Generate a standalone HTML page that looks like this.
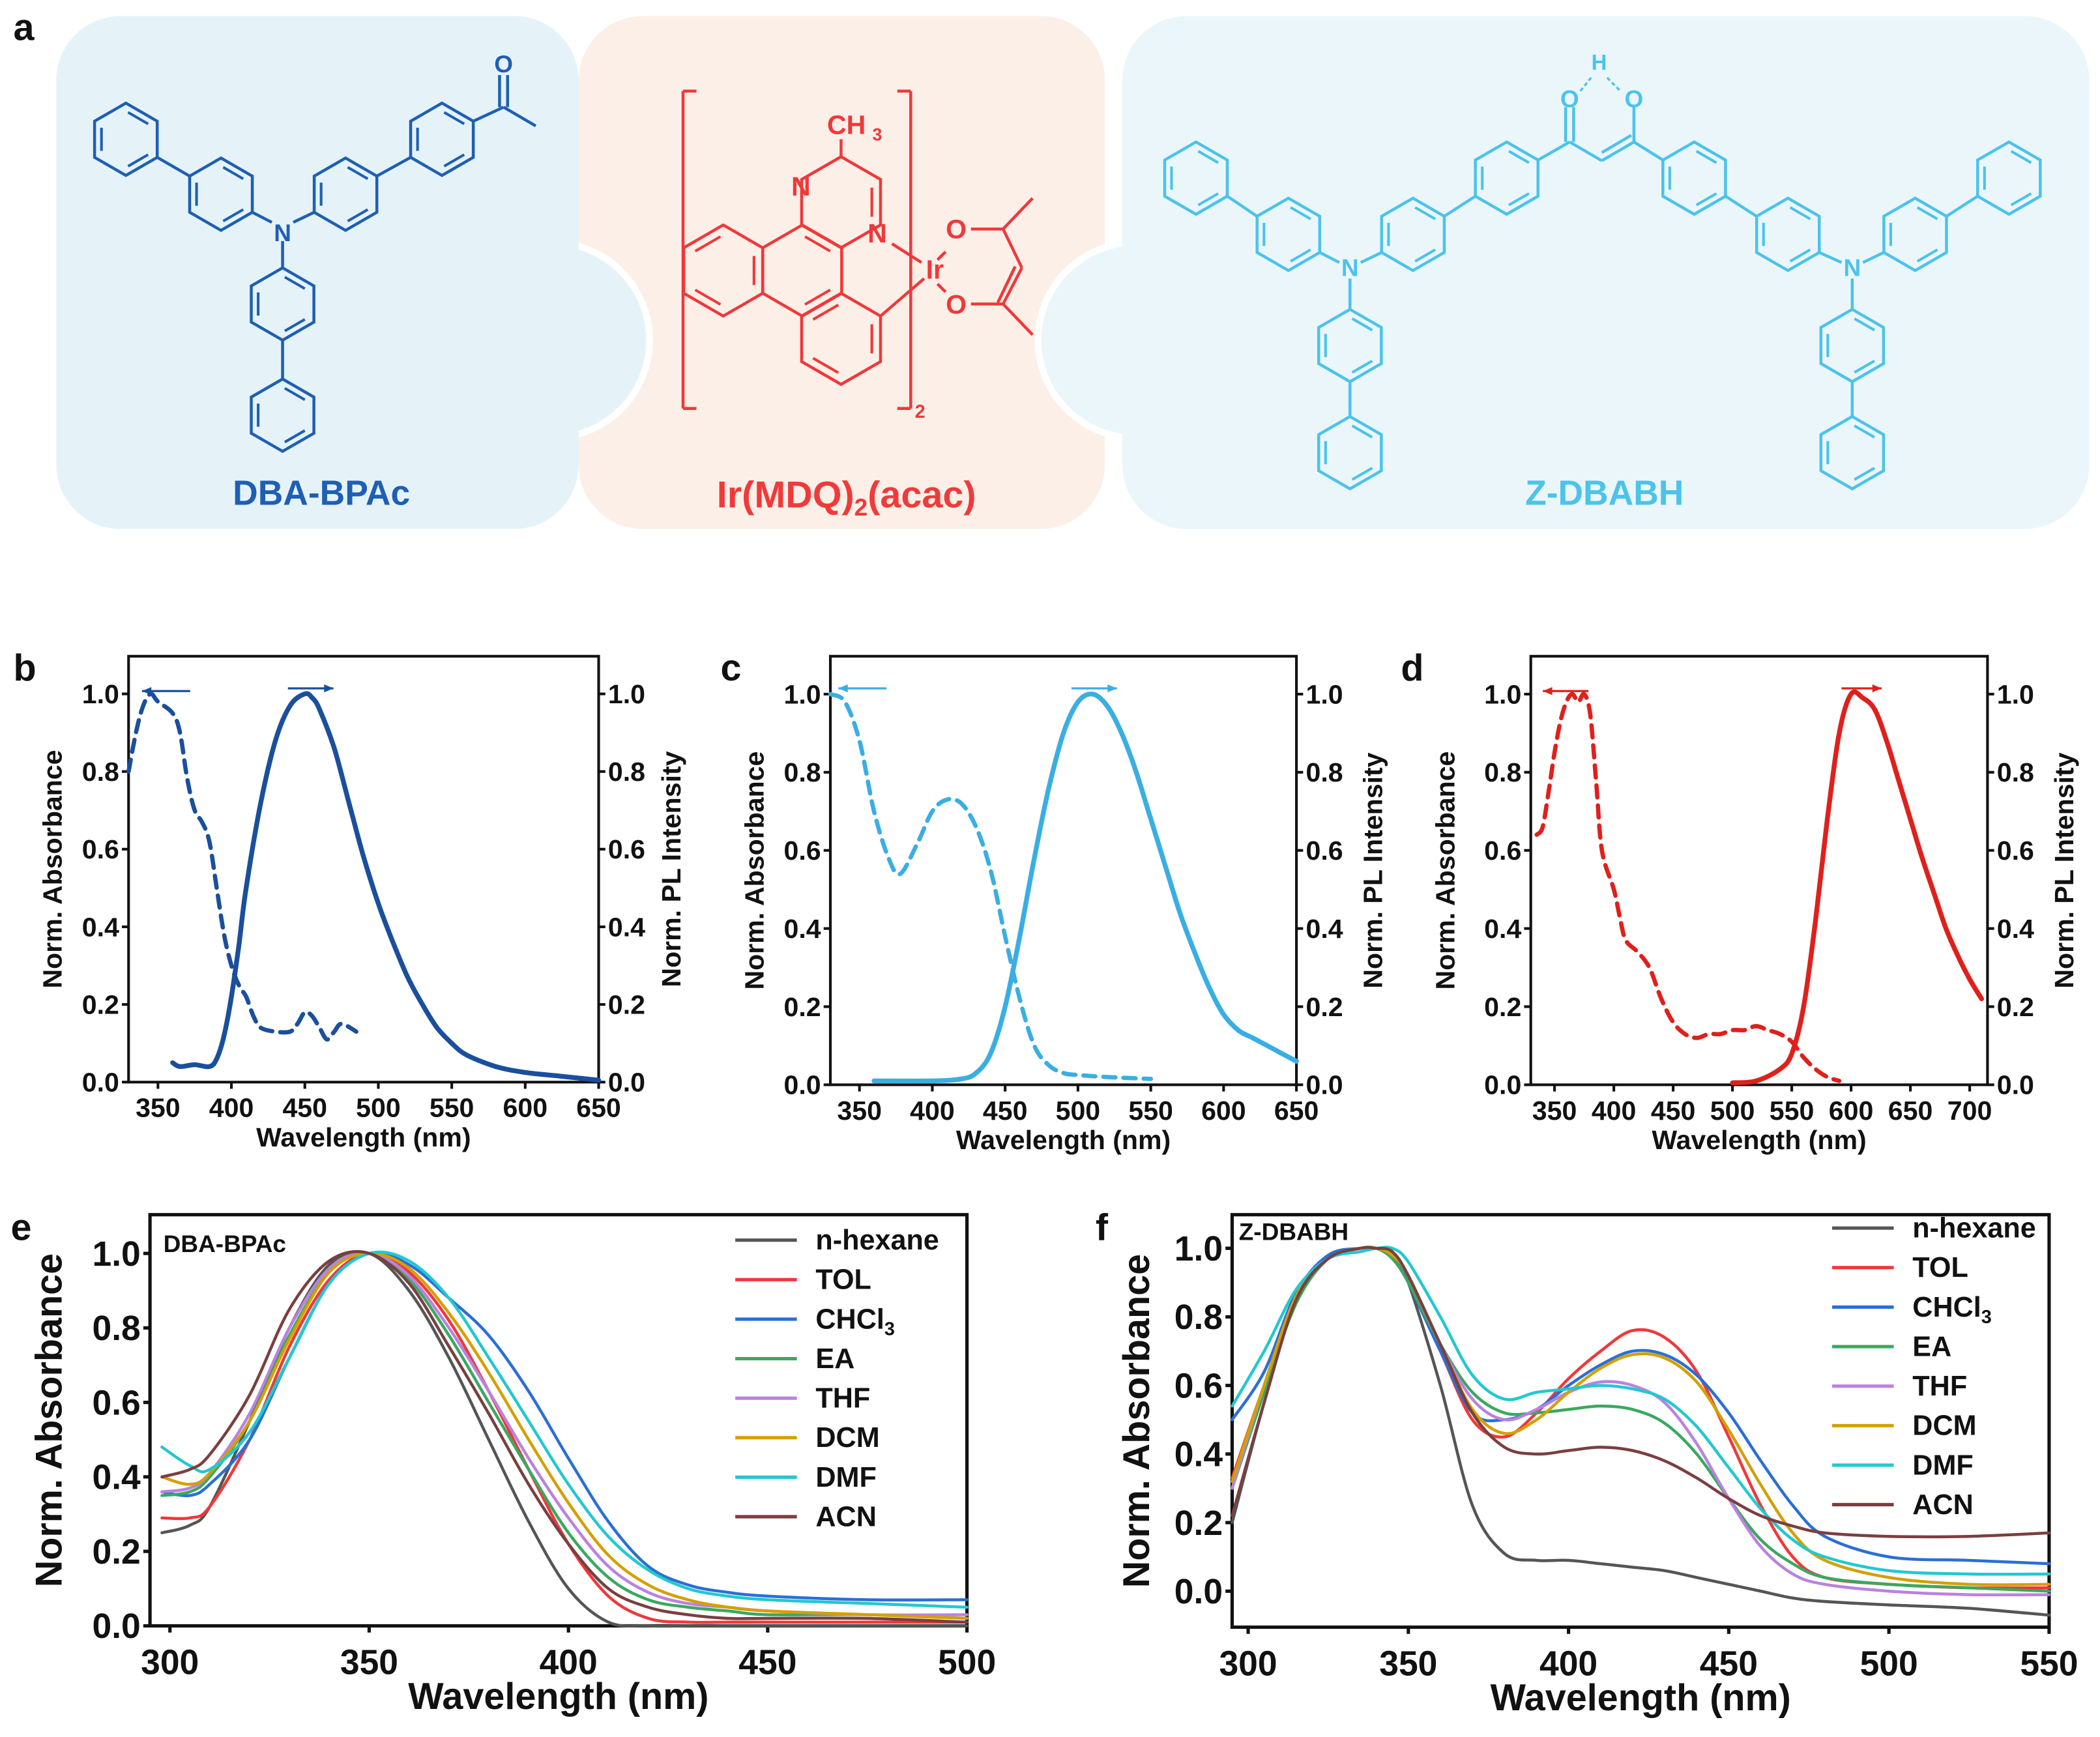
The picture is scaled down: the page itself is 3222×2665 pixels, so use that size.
<!DOCTYPE html>
<html><head><meta charset="utf-8">
<style>
html,body{margin:0;padding:0;background:#fff;}
svg{display:block;}
text{font-family:"Liberation Sans Narrow","Liberation Sans",Arial,sans-serif;font-weight:bold;}
.w{font-family:"Liberation Sans",Arial,sans-serif;}
</style></head>
<body>
<svg id="fig" width="3222" height="2665" viewBox="0 0 1568 1297" preserveAspectRatio="none" xmlns="http://www.w3.org/2000/svg">
<g id="panelA">
  <rect x="432" y="12" width="393" height="383" rx="48" fill="#fbefe8"/>
  <circle cx="412" cy="254" r="73" fill="#e5f3f9" stroke="#fff" stroke-width="5"/>
  <circle cx="848" cy="254" r="73" fill="#ebf6fb" stroke="#fff" stroke-width="5"/>
  <rect x="42" y="12" width="390" height="383" rx="48" fill="#e5f3f9"/>
  <rect x="838" y="12" width="722" height="383" rx="48" fill="#ebf6fb"/>
  <text class="w" x="10" y="30" font-size="28" fill="#111">a</text>
  <text class="w" x="240" y="377" font-size="26" fill="#1f5fb3" text-anchor="middle">DBA-BPAc</text>
  <text x="632" y="379" font-size="28" fill="#f03a3a" text-anchor="middle">Ir(MDQ)<tspan font-size="18" dy="6">2</tspan><tspan dy="-6">(acac)</tspan></text>
  <text class="w" x="1198" y="377" font-size="26" fill="#4cc3ea" text-anchor="middle">Z-DBABH</text>
  <g id="mol"></g>
</g>
<g id="charts"></g>
</svg>
<script>
const NS="http://www.w3.org/2000/svg";
// ---------- chart data ----------
const bAbsX=[330,335,340,345,350,360,365,370,375,380,385,390,395,400,405,410,415,420,430,440,445,450,455,460,465,470,475,485];
const bAbsY=[.80,.90,.97,1.0,.98,.95,.90,.78,.70,.67,.62,.50,.38,.30,.25,.22,.17,.14,.13,.13,.15,.18,.17,.14,.11,.13,.15,.13];
const bPlX=[360,365,375,385,390,395,400,405,410,420,430,440,450,455,460,470,480,490,500,510,520,530,540,550,560,580,600,625,650];
const bPlY=[.05,.04,.045,.04,.06,.12,.22,.35,.50,.72,.88,.97,1.0,.99,.96,.86,.72,.58,.46,.36,.27,.20,.14,.10,.07,.04,.025,.015,.005];
const cAbsX=[330,340,350,360,370,378,390,400,410,420,430,440,450,460,470,480,490,500,520,550];
const cAbsY=[1.0,.98,.88,.70,.58,.54,.62,.70,.73,.72,.66,.55,.38,.22,.10,.05,.03,.025,.02,.015];
const cPlX=[360,400,420,430,440,450,460,470,480,490,500,510,520,530,540,550,560,570,580,590,600,610,620,630,640,650];
const cPlY=[.01,.01,.015,.03,.08,.20,.38,.58,.76,.90,.98,1.0,.97,.90,.80,.68,.56,.44,.34,.25,.18,.14,.12,.10,.08,.06];
const dAbsX=[335,340,345,350,355,360,365,370,375,380,385,390,400,405,410,420,430,440,450,460,470,480,490,500,510,520,530,540,550,560,570,580,590];
const dAbsY=[.64,.66,.75,.85,.93,.98,1.0,.98,1.0,.95,.78,.60,.50,.43,.37,.34,.30,.22,.16,.13,.12,.13,.13,.14,.14,.15,.14,.13,.11,.07,.04,.02,.01];
const dPlX=[500,520,540,550,560,570,580,590,600,610,620,630,640,650,660,670,680,690,700,710];
const dPlY=[.005,.01,.04,.08,.20,.42,.68,.90,1.0,.99,.96,.88,.78,.68,.58,.49,.40,.33,.27,.22];
const solvents=["n-hexane","TOL","CHCl3","EA","THF","DCM","DMF","ACN"];
const solventColors=["#555555","#f0383a","#2a6fd6","#3aa860","#b982e0","#d4a000","#22c8d0","#7a3f3f"];
const eX=[298,305,310,320,330,340,350,360,370,380,390,400,410,420,430,440,450,475,500];
const eHex=[.25,.27,.32,.55,.80,.97,1.0,.90,.72,.50,.28,.10,.01,0,0,0,0,0,0];
const eTol=[.29,.29,.32,.50,.75,.93,1.0,.95,.82,.63,.42,.22,.08,.02,.01,.01,.01,.01,.01];
const eChcl3=[.36,.35,.38,.50,.72,.92,1.0,.97,.88,.78,.63,.45,.28,.16,.11,.09,.08,.07,.07];
const eEa=[.35,.36,.40,.55,.78,.95,1.0,.93,.78,.60,.42,.25,.13,.07,.05,.04,.03,.03,.02];
const eThf=[.36,.37,.41,.57,.80,.96,1.0,.94,.80,.63,.45,.29,.16,.09,.06,.05,.04,.03,.03];
const eDcm=[.40,.38,.41,.55,.77,.95,1.0,.96,.84,.68,.50,.33,.19,.11,.07,.05,.04,.03,.02];
const eDmf=[.48,.43,.42,.52,.72,.92,1.0,.98,.88,.72,.55,.38,.24,.15,.10,.08,.07,.06,.05];
const eAcn=[.40,.42,.46,.62,.85,.98,1.0,.92,.75,.57,.38,.22,.10,.05,.03,.02,.02,.02,.01];
const fX=[295,305,315,325,335,340,345,350,360,370,380,390,400,410,420,430,440,450,460,470,480,500,525,550];
const fHex=[.20,.55,.85,.97,1.0,1.0,.99,.90,.60,.25,.11,.09,.09,.08,.07,.06,.04,.02,0,-.02,-.03,-.04,-.05,-.07];
const fTol=[.33,.60,.85,.97,1.0,1.0,.98,.90,.70,.50,.45,.52,.62,.70,.76,.74,.64,.45,.25,.10,.04,.02,.01,.01];
const fChcl3=[.50,.64,.87,.98,1.0,1.0,.98,.90,.70,.52,.50,.53,.60,.66,.70,.69,.63,.52,.38,.25,.16,.10,.09,.08];
const fEa=[.30,.58,.84,.97,1.0,1.0,.97,.90,.72,.58,.52,.52,.53,.54,.53,.49,.40,.27,.15,.08,.04,.02,.01,0];
const fThf=[.30,.60,.86,.97,1.0,1.0,.98,.92,.72,.56,.50,.53,.58,.61,.60,.55,.43,.27,.13,.05,.02,0,-.01,-.01];
const fDcm=[.32,.60,.86,.97,1.0,1.0,.98,.92,.72,.53,.46,.50,.58,.65,.69,.68,.61,.47,.31,.17,.09,.04,.02,.02];
const fDmf=[.54,.70,.88,.97,.99,1.0,1.0,.96,.80,.63,.56,.58,.59,.60,.59,.56,.48,.36,.24,.15,.10,.06,.05,.05];
const fAcn=[.22,.55,.85,.97,1.0,1.0,.99,.92,.72,.52,.42,.40,.41,.42,.41,.38,.33,.27,.22,.19,.17,.16,.16,.17];
const eSeries=[eHex,eTol,eChcl3,eEa,eThf,eDcm,eDmf,eAcn];
const fSeries=[fHex,fTol,fChcl3,fEa,fThf,fDcm,fDmf,fAcn];
const smallYTicks=[0,0.2,0.4,0.6,0.8,1.0];
const eYTicks=[0,0.2,0.4,0.6,0.8,1.0];
const fYTicks=[0,0.2,0.4,0.6,0.8,1.0];

function mk(tag,attrs,parent){const e=document.createElementNS(NS,tag);for(const k in attrs)e.setAttribute(k,attrs[k]);(parent||document.getElementById('charts')).appendChild(e);return e;}
function txt(s,x,y,size,anchor,parent,extra){const t=mk('text',Object.assign({x:x,y:y,'font-size':size,'text-anchor':anchor||'middle',fill:'#111'},extra||{}),parent);t.textContent=s;return t;}

function axes(cfg){
  const g=mk('g',{});
  
  
  const sx=v=>cfg.x0+(v-cfg.xmin)/(cfg.xmax-cfg.xmin)*(cfg.x1-cfg.x0);
  const sy=v=>cfg.y1-(v-cfg.ymin)/(cfg.ymax-cfg.ymin)*(cfg.y1-cfg.y0);
  const fr=mk('rect',{x:cfg.x0,y:cfg.y0,width:cfg.x1-cfg.x0,height:cfg.y1-cfg.y0,fill:'none',stroke:'#111','stroke-width':cfg.sw||2},g);
  
  
  cfg.xt.forEach(v=>{
    mk('line',{x1:sx(v),x2:sx(v),y1:cfg.y1,y2:cfg.y1+5,stroke:'#111','stroke-width':cfg.sw||2},g);
    const t=txt(String(v),sx(v),cfg.y1+cfg.tf+(cfg.xto||4),cfg.tf,'middle',g);
    
    
  });
  cfg.yt.forEach(v=>{
    mk('line',{x1:cfg.x0-5,x2:cfg.x0,y1:sy(v),y2:sy(v),stroke:'#111','stroke-width':cfg.sw||2},g);
    const t=txt(v.toFixed(1),cfg.x0-7,sy(v)+cfg.tf*0.35,cfg.tf,'end',g);
    
    
    if(cfg.right){
      mk('line',{x1:cfg.x1,x2:cfg.x1+5,y1:sy(v),y2:sy(v),stroke:'#111','stroke-width':cfg.sw||2},g);
      const r=txt(v.toFixed(1),cfg.x1+7,sy(v)+cfg.tf*0.35,cfg.tf,'start',g);
      
      
    }
  });
  const xl=txt('Wavelength (nm)',(cfg.x0+cfg.x1)/2,cfg.y1+cfg.tf*2+(cfg.xlo||4),cfg.lf,'middle',g);
  
  
  const yl=txt('Norm. Absorbance',0,0,cfg.lf,'middle',g,{transform:`translate(${cfg.ylx},${(cfg.y0+cfg.y1)/2}) rotate(-90)`});
  
  
  if(cfg.right){
    const r=txt('Norm. PL Intensity',0,0,cfg.lf,'middle',g,{transform:`translate(${cfg.rlx},${(cfg.y0+cfg.y1)/2}) rotate(-90)`});
    
    
  }
  const pl=txt(cfg.letter,cfg.lx,cfg.ly,28,'start',g,{class:'w'});
  
  
  return {g,sx,sy};
}
function series(ax,xs,ys,color,w,dash,name){
  const P=xs.map((x,i)=>[ax.sx(x),ax.sy(ys[i])]);
  let d='M'+P[0][0].toFixed(1)+','+P[0][1].toFixed(1);
  for(let i=0;i<P.length-1;i++){
    const p0=P[i-1]||P[i],p1=P[i],p2=P[i+1],p3=P[i+2]||P[i+1];
    const c1=[p1[0]+(p2[0]-p0[0])/6,p1[1]+(p2[1]-p0[1])/6],c2=[p2[0]-(p3[0]-p1[0])/6,p2[1]-(p3[1]-p1[1])/6];
    d+=` C${c1[0].toFixed(1)},${c1[1].toFixed(1)} ${c2[0].toFixed(1)},${c2[1].toFixed(1)} ${p2[0].toFixed(1)},${p2[1].toFixed(1)}`;
  }
  const p=mk('path',{d:d,fill:'none',stroke:color,'stroke-width':w,'stroke-linejoin':'round','stroke-linecap':'round'},ax.g);
  if(dash)p.setAttribute('stroke-dasharray',dash);
  
  
}
function arrow(g,x1,x2,y,color){
  mk('line',{x1:x1,x2:x2,y1:y,y2:y,stroke:color,'stroke-width':1.6},g);
  const dir=x2<x1?1:-1;
  const a=mk('path',{d:`M${x2},${y} L${x2+dir*7},${y-3} L${x2+dir*7},${y+3}Z`,fill:color},g);
  
  
}
// panel b
const B=axes({name:'panel-b-chart',letter:'b',lx:10,ly:508,x0:96,x1:447,y0:490,y1:808,xmin:330,xmax:650,ymin:0,ymax:1.097,xt:[350,400,450,500,550,600,650],yt:smallYTicks,tf:20,lf:20,ylx:46,rlx:508,right:true,xto:6,xlo:8});
series(B,bAbsX,bAbsY,'#1a4f9c',3.2,'9,6','b-absorbance-dashed');
series(B,bPlX,bPlY,'#1a4f9c',3.6,null,'b-pl-solid');
arrow(B.g,142,106,516,'#1a4f9c');arrow(B.g,215,249,514,'#1a4f9c');
// panel c
const C=axes({name:'panel-c-chart',letter:'c',lx:538,ly:508,x0:620,x1:968,y0:490,y1:810,xmin:330,xmax:650,ymin:0,ymax:1.097,xt:[350,400,450,500,550,600,650],yt:smallYTicks,tf:20,lf:20,ylx:570,rlx:1032,right:true,xto:6,xlo:8});
series(C,cAbsX,cAbsY,'#3aaee3',3.2,'9,6','c-absorbance-dashed');
series(C,cPlX,cPlY,'#3aaee3',3.6,null,'c-pl-solid');
arrow(C.g,662,626,514,'#3aaee3');arrow(C.g,800,834,514,'#3aaee3');
// panel d
const D=axes({name:'panel-d-chart',letter:'d',lx:1046,ly:508,x0:1143,x1:1484,y0:490,y1:810,xmin:330,xmax:715,ymin:0,ymax:1.097,xt:[350,400,450,500,550,600,650,700],yt:smallYTicks,tf:20,lf:20,ylx:1086,rlx:1548,right:true,xto:6,xlo:8});
series(D,dAbsX,dAbsY,'#e0201b',3.2,'9,6','d-absorbance-dashed');
series(D,dPlX,dPlY,'#e0201b',3.6,null,'d-pl-solid');
arrow(D.g,1186,1152,516,'#e0201b');arrow(D.g,1375,1405,514,'#e0201b');
// panel e
const E=axes({name:'panel-e-chart',letter:'e',lx:8,ly:926,x0:112,x1:722,y0:907,y1:1214,xmin:295,xmax:500,ymin:0,ymax:1.104,xt:[300,350,400,450,500],yt:eYTicks,tf:26,lf:28,ylx:46,right:false,sw:2.5,xto:10,xlo:10});
eSeries.forEach((s,i)=>series(E,eX,s,solventColors[i],2.2,null,'e-'+solvents[i].toLowerCase()+'-line'));
const eLab=txt('DBA-BPAc',122,935,18,'start',E.g);


// panel f
const F=axes({name:'panel-f-chart',letter:'f',lx:818,ly:926,x0:920,x1:1530,y0:907,y1:1215,xmin:295,xmax:550,ymin:-0.105,ymax:1.098,xt:[300,350,400,450,500,550],yt:fYTicks,tf:26,lf:28,ylx:858,right:false,sw:2.5,xto:10,xlo:10});
fSeries.forEach((s,i)=>series(F,fX,s,solventColors[i],2.2,null,'f-'+solvents[i].toLowerCase()+'-line'));
const fLab=txt('Z-DBABH',925,926,18,'start',F.g);


function legend(ax,x,y,step){
  solvents.forEach((s,i)=>{
    const yy=y+i*step;
    const l=mk('line',{x1:x,x2:x+46,y1:yy,y2:yy,stroke:solventColors[i],'stroke-width':2.5},ax.g);
    
    
    const t=mk('text',{x:x+60,y:yy+7,'font-size':21,fill:'#111'},ax.g);
    if(s==='CHCl3'){t.textContent='CHCl';const sub=mk('tspan',{'font-size':14,dy:5},t);sub.textContent='3';}else t.textContent=s;
    
    
  });
}
legend(E,549,926,29.5);
legend(F,1368,917,29.5);

// ---------- molecule drawings ----------
const mol=document.getElementById('mol');
function hex(cx,cy,r,col,dbl){
  const pts=[];for(let k=0;k<6;k++){const a=(-90+60*k)*Math.PI/180;pts.push([cx+r*Math.cos(a),cy+r*Math.sin(a)]);}
  const p=mk('polygon',{points:pts.map(p=>p.join(',')).join(' '),fill:'none',stroke:col,'stroke-width':2.2},mol);
  
  
  (dbl||[0,2,4]).forEach(k=>{const a=pts[k],b=pts[(k+1)%6];const ix=(cx-(a[0]+b[0])/2)*0.22,iy=(cy-(a[1]+b[1])/2)*0.22;
    mk('line',{x1:a[0]+(b[0]-a[0])*.18+ix,y1:a[1]+(b[1]-a[1])*.18+iy,x2:b[0]-(b[0]-a[0])*.18+ix,y2:b[1]-(b[1]-a[1])*.18+iy,stroke:col,'stroke-width':2},mol);});
  return pts;
}
function ln(a,b,col,w){mk('line',{x1:a[0],y1:a[1],x2:b[0],y2:b[1],stroke:col,'stroke-width':w||2.2},mol);}
function tx(s,x,y,col,size){const t=mk('text',{x,y,'font-size':size||18,fill:col,'text-anchor':'middle'},mol);t.textContent=s;return t;}
// DBA-BPAc
const bl='#1f5fb3',R=27;
const r1=hex(94,104,R,bl),r2=hex(165,145,R,bl),r3=hex(258,145,R,bl),r4=hex(330,104,R,bl),r5=hex(211,227,R,bl),r6=hex(211,310,R,bl);
ln(r1[2],r2[5],bl);ln(r2[2],[203,166],bl);ln([219,166],r3[4],bl);ln(r3[1],r4[4],bl);ln([211,180],r5[0],bl);ln(r5[3],r6[0],bl);
tx('N',211,180,bl);
const cC=[376,80];ln(r4[1],cC,bl);ln(cC,[400,94],bl);ln([373,80],[373,56],bl);ln([379,80],[379,56],bl);tx('O',376,54,bl);
// Ir complex
const rd='#f0383a',rr=34;
hex(540,202,rr,rd,[1,3,5]);const rc=hex(599,202,rr,rd,[0,2]);const rp=hex(628,151,rr,rd,[1]);const rl=hex(628,253,rr,rd,[1,3,5]);
tx('N',598,146,rd,20);tx('N',655,181,rd,20);tx('CH',632,100,rd,20);tx('3',655,105,rd,13);ln([628,117],[628,104],rd);
tx('Ir',698,208,rd,20);ln([666,182],[688,196],rd);ln(rl[1],[690,208],rd);
tx('O',714,178,rd,20);tx('O',714,234,rd,20);ln([706,188],[700,194],rd);ln([706,218],[700,212],rd);
ln([725,171],[749,171],rd);ln([725,227],[749,227],rd);ln([749,171],[763,200],rd);ln([749,227],[763,200],rd);ln([745,226],[758,199],rd);ln([749,171],[771,148],rd);ln([749,227],[771,250],rd);
ln([520,68],[510,68],rd);ln([510,68],[510,305],rd);ln([510,305],[520,305],rd);ln([670,68],[680,68],rd);ln([680,68],[680,305],rd);ln([680,305],[670,305],rd);tx('2',687,312,rd,14);
// Z-DBABH
const cy='#4cc3ea';
const z1=hex(893,133,R,cy),z2=hex(962,175,R,cy),z3=hex(1055,175,R,cy),z4=hex(1125,133,R,cy),z5=hex(1265,133,R,cy),z6=hex(1335,175,R,cy),z7=hex(1430,175,R,cy),z8=hex(1500,133,R,cy),z9=hex(1008,258,R,cy),z10=hex(1008,338,R,cy),z11=hex(1383,258,R,cy),z12=hex(1383,338,R,cy);
ln(z1[2],z2[5],cy);ln(z3[1],z4[4],cy);ln(z5[2],z6[5],cy);ln(z8[4],z7[1],cy);
tx('N',1008,206,cy);tx('N',1383,206,cy);
ln(z2[2],[1000,196],cy);ln([1016,196],z3[4],cy);ln(z6[2],[1375,196],cy);ln([1391,196],z7[4],cy);
ln([1008,208],z9[0],cy);ln([1383,208],z11[0],cy);ln(z9[3],z10[0],cy);ln(z11[3],z12[0],cy);
ln(z4[1],[1172,106],cy);ln([1172,106],[1196,120],cy);ln([1196,120],[1220,106],cy);ln([1196,114],[1218,101],cy);ln([1220,106],z5[5],cy);ln([1169,106],[1169,80],cy);ln([1175,106],[1175,80],cy);ln([1220,106],[1220,80],cy);
tx('O',1172,80,cy);tx('O',1220,80,cy);tx('H',1194,52,cy,16);
mk('path',{d:'M1180,68 L1188,58 M1200,58 L1210,68',stroke:cy,'stroke-width':1.6,'stroke-dasharray':'3,2',fill:'none'},mol);
</script>
</body></html>
